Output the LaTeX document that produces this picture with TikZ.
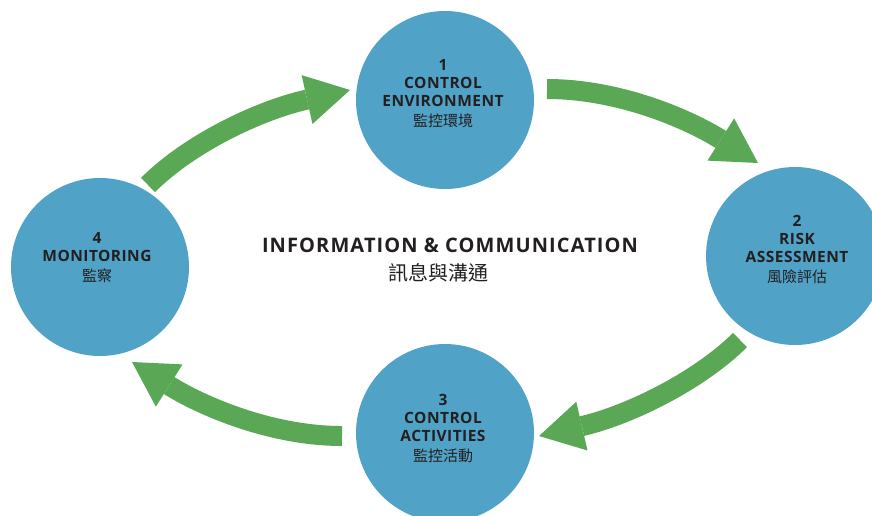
\documentclass[tikz,border=0pt]{standalone}
\usepackage{fontspec}
\setmainfont{Open Sans}
\newfontfamily\cjk{Noto Sans CJK TC}
\newfontfamily\lbl[LetterSpace=3]{Open Sans}
\newfontfamily\ttl[LetterSpace=5.5]{Open Sans}
\usetikzlibrary{arrows.meta}
\definecolor{cblue}{HTML}{50A3C6}
\definecolor{agreen}{HTML}{5AA855}
\definecolor{tdark}{HTML}{231F20}
\newcommand{\cjkline}[1]{{\cjk\mdseries\fontsize{15}{18}\selectfont #1}}
\begin{document}
\begin{tikzpicture}[x=1pt,y=-1pt,
  bubble/.style={circle,fill=cblue,draw=none,minimum size=178pt,inner sep=0pt},
  lab/.style={align=center,text=tdark,font=\lbl\bfseries\fontsize{15.5}{18}\selectfont,inner sep=0pt},
  flow/.style={draw=agreen,line width=20pt,line cap=butt,
     -{Triangle[width=50pt,length=44pt,line width=0pt]}}]
\useasboundingbox (0,0) rectangle (872,515);
% circles
\node[bubble] (c1) at (445,100) {};
\node[bubble] (c2) at (795,256) {};
\node[bubble] (c3) at (445,433) {};
\node[bubble] (c4) at (100,267) {};
% labels
\node[lab] (t1) at (443,94) {1\\CONTROL\\ENVIRONMENT\\[2pt]\cjkline{監控環境}};
\node[lab] (t2) at (797,250) {2\\RISK\\ASSESSMENT\\[2pt]\cjkline{風險評估}};
\node[lab] (t3) at (443,429) {3\\CONTROL\\ACTIVITIES\\[2pt]\cjkline{監控活動}};
\node[lab] (t4) at (97,258) {4\\MONITORING\\[2pt]\cjkline{監察}};
\node[text=tdark,font=\ttl\bfseries\fontsize{20}{22}\selectfont,inner sep=0pt] (title) at (450,245) {INFORMATION \& COMMUNICATION};
\node[text=tdark,font=\cjk\fontsize{20}{22}\selectfont,inner sep=0pt] (subtitle) at (438,273) {訊息與溝通};
% arrow end points
\coordinate (a1s) at (148,185); \coordinate (a1e) at (350,90);
\coordinate (a2s) at (547,89);  \coordinate (a2e) at (758,163);
\coordinate (a3s) at (740,340); \coordinate (a3e) at (539,436);
\coordinate (a4s) at (342,436); \coordinate (a4e) at (132,362);
\draw[flow] (a1s) .. controls (190,143) and (260,110) .. (a1e);
\draw[flow] (a2s) .. controls (620,89) and (690,120) .. (a2e);
\draw[flow] (a3s) .. controls (700,380) and (630,415) .. (a3e);
\draw[flow] (a4s) .. controls (270,436) and (200,405) .. (a4e);
\end{tikzpicture}
\end{document}
